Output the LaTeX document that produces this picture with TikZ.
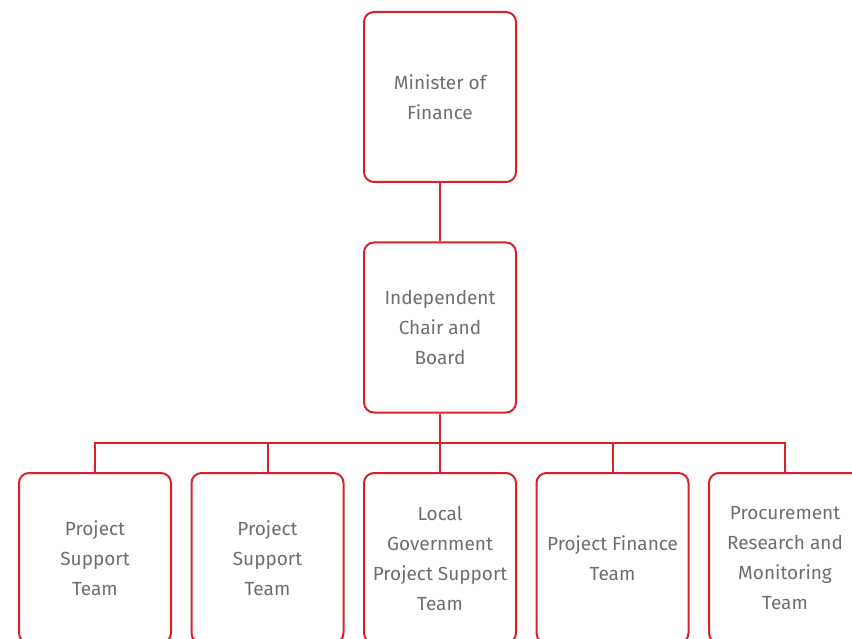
\documentclass[tikz,border=0pt]{standalone}
\usepackage{fontspec}
\setmainfont{Fira Sans}
\usetikzlibrary{trees}
\definecolor{boardred}{HTML}{D9212B}
\definecolor{boardgrey}{HTML}{6E6E6E}

\begin{document}
\begin{tikzpicture}[
            level distance=230.5pt,
            level 2/.style={sibling distance=172.5pt,
                edge from parent path={(\tikzparentnode.south) -- ++(0,-29.5pt) -| (\tikzchildnode.north)}},
            edge from parent/.style={draw=boardred, line width=2pt},
            every node/.style={rectangle, rounded corners=10pt, draw=boardred, line width=2pt,
                minimum width=152pt, minimum height=170pt, align=center, text=boardgrey,
                font=\fontsize{19}{30}\selectfont}
        ]
            \useasboundingbox (0,0) rectangle (852pt,-639pt);
            \clip (0,0) rectangle (852pt,-639pt);
            \node (minister) at (440pt,-97pt) {Minister of\\Finance}
                child { node (board) {Independent\\Chair and\\Board}
                    child { node (pst1) {Project\\Support\\Team} }
                    child { node (pst2) {Project\\Support\\Team} }
                    child { node (lgpst) {Local\\Government\\Project Support\\Team} }
                    child { node (pft) {Project Finance\\Team} }
                    child { node (prmt) {Procurement\\Research and\\Monitoring\\Team} }
                };
        \end{tikzpicture}
\end{document}
